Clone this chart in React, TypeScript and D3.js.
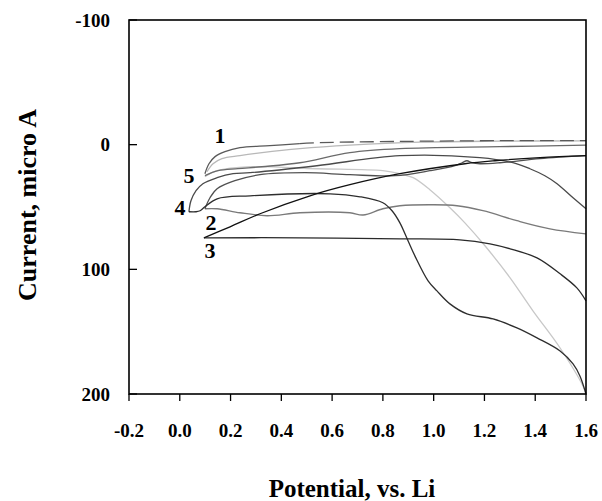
import React from "react";
import * as d3 from "d3";

type P = [number, number];

const xTicks = [-0.2, 0.0, 0.2, 0.4, 0.6, 0.8, 1.0, 1.2, 1.4, 1.6];
const yTicks = [-100, 0, 100, 200];

const curve1Up: P[] = [[0.099,23.3],[0.115,15.3],[0.139,9.6],[0.178,5.6],[0.237,2.4],[0.355,0.8],[0.473,-0.8]];
const curve1UpTail: P[] = [[0.473,-0.8],[0.552,-1.6],[0.867,-2.6],[1.261,-3.2],[1.6,-3.2]];
const curve1Down: P[] = [[0.107,21.7],[0.131,15.3],[0.166,11.2],[0.237,8.8],[0.324,6.4],[0.473,3.2],[0.67,0.4],[0.946,-2.0],[1.261,-2.8],[1.6,-3.0]];
const curve5Up: P[] = [[0.099,24.9],[0.151,20.9],[0.229,19.3],[0.324,17.7],[0.473,14.5],[0.67,6.4],[0.867,3.2],[1.261,1.6],[1.6,0.4]];
const curve5Down: P[] = [[0.099,25.7],[0.147,20.9],[0.277,17.7],[0.54,19.3],[0.8,20.9],[0.867,23.3],[0.919,26.5],[0.985,36.1],[1.064,50.6],[1.123,62.7],[1.202,81.1],[1.301,106.8],[1.391,133.3],[1.498,163.1],[1.588,193.6],[1.6,200]];
const curve4Up: P[] = [[0.036,53.8],[0.044,45.0],[0.064,36.9],[0.091,31.3],[0.147,26.5],[0.21,23.3],[0.277,22.5],[0.54,16.9],[0.867,8.8],[1.182,10.4],[1.312,14.5],[1.379,19.3],[1.438,24.9],[1.486,31.3],[1.549,42.6],[1.6,51.4]];
const curve4Down: P[] = [[0.036,53.8],[0.064,53.8],[0.08,53.0],[0.099,49.8],[0.147,43.4],[0.277,41.0],[0.592,39.4],[0.71,41.8],[0.8,46.6],[0.836,53.0],[0.867,62.7],[0.899,77.1],[0.926,89.2],[0.978,109.2],[1.013,117.3],[1.064,127.7],[1.131,135.7],[1.234,139.8],[1.328,147.0],[1.407,155.0],[1.498,165.5],[1.549,175.9],[1.576,185.5],[1.6,200]];
const curve2Up: P[] = [[0.099,51.4],[0.119,42.6],[0.147,35.3],[0.217,28.9],[0.316,24.1],[0.493,22.5],[0.67,24.1],[0.848,24.9],[0.985,20.9],[1.084,16.9],[1.112,14.5],[1.131,12.9],[1.151,14.5],[1.182,15.3],[1.261,14.5],[1.419,11.2],[1.6,8.8]];
const curve2Down: P[] = [[0.099,51.4],[0.147,51.4],[0.237,54.6],[0.344,57.0],[0.473,54.6],[0.67,54.6],[0.722,56.4],[0.8,51.4],[0.867,49.0],[0.997,48.2],[1.092,49.0],[1.194,53.0],[1.328,61.0],[1.458,67.5],[1.6,71.5]];
const curve3Up: P[] = [[0.095,74.7],[0.198,65.9],[0.316,55.4],[0.513,41.0],[0.67,32.1],[0.867,23.3],[1.123,15.3],[1.241,12.9],[1.419,10.4],[1.6,8.8]];
const curve3Down: P[] = [[0.095,74.7],[0.473,74.7],[0.867,75.5],[1.103,76.3],[1.222,79.5],[1.301,83.5],[1.407,90.8],[1.498,103.6],[1.564,114.9],[1.6,125.3]];

const curveLabels = ["1", "5", "4", "2", "3"];
const curveLabelPos: P[] = [[0.158,-7.2],[0.036,24.9],[0.001,50.6],[0.123,62.7],[0.119,85.1]];

const series = [
  { data: curve5Down, color: "#c8c8c8", dash: "" },
  { data: curve1Down, color: "#b8b8b8", dash: "" },
  { data: curve1Up, color: "#5a5a5a", dash: "" },
  { data: curve1UpTail, color: "#5a5a5a", dash: "14,6" },
  { data: curve5Up, color: "#6a6a6a", dash: "" },
  { data: curve2Down, color: "#7a7a7a", dash: "" },
  { data: curve2Up, color: "#505050", dash: "" },
  { data: curve4Up, color: "#4a4a4a", dash: "" },
  { data: curve4Down, color: "#2e2e2e", dash: "" },
  { data: curve3Down, color: "#2a2a2a", dash: "" },
  { data: curve3Up, color: "#111111", dash: "" },
];

const W = 602, H = 501;
const left = 129, right = 586, top = 20, bottom = 394;

export default function App() {
  const x = d3.scaleLinear().domain([-0.2, 1.6]).range([left, right]);
  const y = d3.scaleLinear().domain([-100, 200]).range([top, bottom]);
  const line = d3.line<P>().x(d => x(d[0])).y(d => y(d[1])).curve(d3.curveCatmullRom.alpha(0.5));
  const font = "'Liberation Serif', 'Times New Roman', serif";
  return (
    <svg width={W} height={H} style={{ position: "absolute", left: 0, top: 0, background: "#fff" }}>
      <rect x={0} y={0} width={W} height={H} fill="#fff" />
      <g fill="none" strokeWidth={1.3} strokeLinejoin="round">
        {series.map((s, i) => (
          <path key={i} d={line(s.data) || ""} stroke={s.color} strokeDasharray={s.dash || undefined} />
        ))}
      </g>
      <rect x={left} y={top} width={right - left} height={bottom - top} fill="none" stroke="#000" strokeWidth={1.6} />
      {xTicks.map((t, i) => (
        <g key={i}>
          <line x1={x(t)} x2={x(t)} y1={bottom} y2={bottom + 7} stroke="#000" strokeWidth={1.3} />
          <text x={x(t)} y={437} textAnchor="middle" fontFamily={font} fontWeight="bold" fontSize={19}>
            {t.toFixed(1)}
          </text>
        </g>
      ))}
      {yTicks.map((t, i) => (
        <g key={i}>
          <line x1={left} x2={left + 8} y1={y(t)} y2={y(t)} stroke="#000" strokeWidth={1.3} />
          <text x={110} y={y(t) + 6.5} textAnchor="end" fontFamily={font} fontWeight="bold" fontSize={19}>
            {t}
          </text>
        </g>
      ))}
      {curveLabels.map((l, i) => (
        <text key={i} x={x(curveLabelPos[i][0])} y={y(curveLabelPos[i][1]) + 7.5} textAnchor="middle"
          fontFamily={font} fontWeight="bold" fontSize={22}>{l}</text>
      ))}
      <text x={352} y={497} textAnchor="middle" fontFamily={font} fontWeight="bold" fontSize={25}>
        Potential, vs. Li
      </text>
      <text transform={`translate(36,205) rotate(-90)`} textAnchor="middle" fontFamily={font} fontWeight="bold" fontSize={26}>
        Current, micro A
      </text>
    </svg>
  );
}
